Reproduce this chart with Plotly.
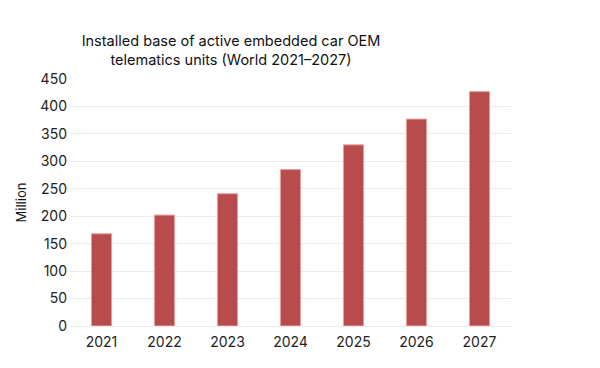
import plotly.graph_objects as go

years = ["2021", "2022", "2023", "2024", "2025", "2026", "2027"]
units_million = [168, 202, 241, 285, 330, 377, 427]
y_ticks = [0, 50, 100, 150, 200, 250, 300, 350, 400, 450]

fig = go.Figure(go.Bar(
    x=years, y=units_million,
    marker=dict(color="#B84C4C", line=dict(color="#E8A0A0", width=1)),
))

fig.update_layout(
    width=600, height=368,
    margin=dict(l=70, r=89, t=79, b=42, autoexpand=False),
    paper_bgcolor="white", plot_bgcolor="white",
    font=dict(family="Inter, Liberation Sans, Arial", size=14, color="#222"),
    title=dict(
        text="Installed base of active embedded car OEM<br>telematics units (World 2021–2027)",
        x=231/600, xanchor="center", y=1 - 46/368, yanchor="middle",
        font=dict(size=14.5, color="#111"),
    ),
    bargap=0.68,
    showlegend=False,
)
fig.update_xaxes(showgrid=False, showline=False, ticks="", tickfont=dict(size=14),
                 ticklabelstandoff=6)
fig.update_yaxes(
    range=[0, 450], tickvals=y_ticks, showgrid=True, gridcolor="#EBEBEB", gridwidth=1,
    zeroline=True, zerolinecolor="#EBEBEB", zerolinewidth=1,
    title=dict(text="Million", font=dict(size=13, color="#111"), standoff=10),
    tickfont=dict(size=14), ticks="", ticklabelstandoff=2,
)

fig.write_html("out.html", config={"displayModeBar": False},
               post_script="document.body.style.margin='0';")
